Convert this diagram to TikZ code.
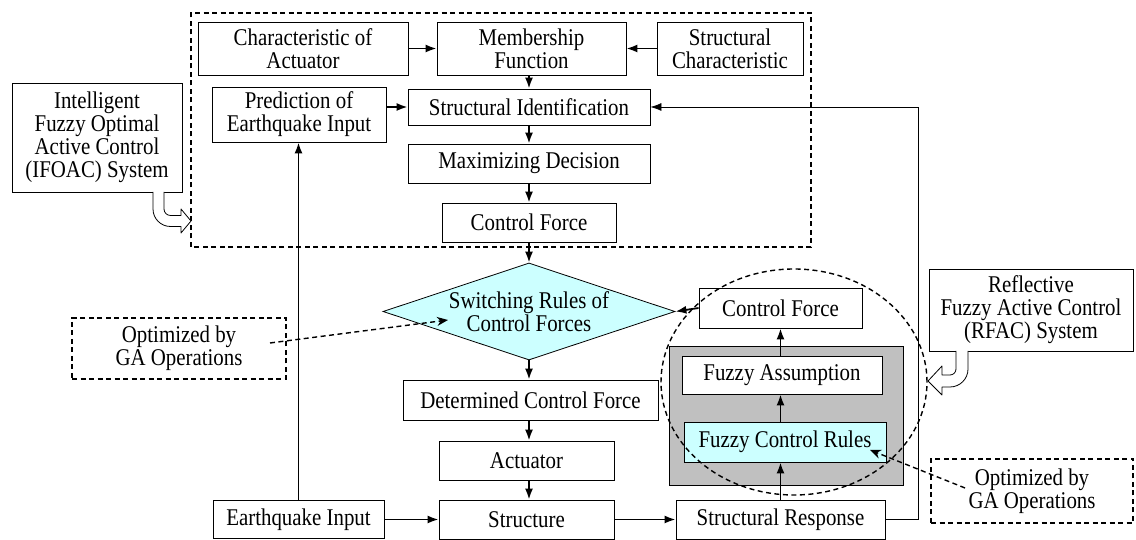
\documentclass[tikz,border=0pt]{standalone}
\usepackage{fontspec}
\setmainfont[FakeStretch=0.87]{Liberation Serif}
\usepackage{tikz}
\usetikzlibrary{arrows.meta,shapes.geometric}
\definecolor{pale}{HTML}{CCFFFF}
\definecolor{boxgray}{HTML}{C0C0C0}
\tikzset{
  box/.style={draw, line width=0.8pt, fill=white, align=center, inner sep=0pt, font=\rmfamily\fontsize{24}{23}\selectfont},
  gabox/.style={box, line width=1.4pt, dash pattern=on 5pt off 3.5pt},
  flow/.style={line width=1.8pt, -{Latex[length=11pt,width=8pt]}},
  back/.style={line width=0.8pt, -{Latex[length=11pt,width=8pt]}},
  hint/.style={line width=1.4pt, dash pattern=on 5pt off 3.5pt, -{Stealth[length=11pt,width=9pt]}},
  frame/.style={line width=1.4pt, dash pattern=on 5pt off 3.5pt},
  hollow/.style={draw, line width=0.8pt, fill=white, line join=round},
}

\begin{document}
\begin{tikzpicture}[x=1pt,y=1pt]
  \useasboundingbox (0,0) rectangle (1136,540);

  % IFOAC part
  \draw[frame] (191,293) rectangle (811,527);
  \node[box, minimum width=210, minimum height=53] (act) at (303,491.5) {Characteristic of\\Actuator};
  \node[box, minimum width=189, minimum height=53] (mf) at (531.5,491.5) {Membership\\Function};
  \node[box, minimum width=146, minimum height=53] (sc) at (730,491.5) {Structural\\Characteristic};
  \node[box, minimum width=174, minimum height=55] (pred) at (299,425.5) {Prediction of\\Earthquake Input};
  \node[box, minimum width=242, minimum height=36] (sid) at (529,433) {Structural Identification};
  \node[box, minimum width=242, minimum height=39] (md) at (529,376.5) {Maximizing Decision};
  \node[box, minimum width=174, minimum height=39] (cf) at (529,317.5) {Control Force};
  \node[box, minimum width=170, minimum height=109] (ifoac) at (97,402.5) {Intelligent\\Fuzzy Optimal\\Active Control\\(IFOAC) System};

  % switching and plant
  \node[box, shape=diamond, aspect=3, inner sep=-5pt, minimum width=292, minimum height=97, fill=pale] (sw) at (529,228.5) {Switching Rules of\\Control Forces};
  \node[box, minimum width=255, minimum height=40] (dcf) at (530.5,140) {Determined Control Force};
  \node[box, minimum width=175, minimum height=39] (actr) at (526.5,79.5) {Actuator};
  \node[box, minimum width=175, minimum height=39] (st) at (526.5,20.5) {Structure};
  \node[box, minimum width=171, minimum height=38] (eq) at (298.5,20.5) {Earthquake Input};
  \node[box, minimum width=209, minimum height=39] (sr) at (780.5,20.5) {Structural Response};

  % RFAC part
  \filldraw[fill=boxgray, draw=black, line width=0.6pt] (669,55) rectangle (903,194);
  \node[box, minimum width=200, minimum height=38] (fa) at (782,165) {Fuzzy Assumption};
  \node[box, minimum width=202, minimum height=40, fill=pale] (fcr) at (785,98) {Fuzzy Control Rules};
  \node[box, minimum width=163, minimum height=40] (cfr) at (780.5,232) {Control Force};
  \node[box, minimum width=204, minimum height=82] (rfac) at (1031,230) {Reflective\\Fuzzy Active Control\\(RFAC) System};

  \node[gabox, minimum width=214, minimum height=61] (gaL) at (179,191.5) {Optimized by\\GA Operations};
  \node[gabox, minimum width=202, minimum height=64] (gaR) at (1032,49) {Optimized by\\GA Operations};

  % connectors
  \draw[flow] (act.east) -- (mf.west);
  \draw[flow] (sc.west) -- (mf.east);
  \draw[flow] (mf.south -| sid.north) -- (sid.north);
  \draw[flow] (pred.east |- sid.west) -- (sid.west);
  \draw[flow] (sid.south) -- (md.north);
  \draw[flow] (md.south) -- (cf.north);
  \draw[flow] (cf.south) -- (sw.north);
  \draw[flow] (sw.south) -- (sw.south |- dcf.north);
  \draw[flow] (sw.south |- dcf.south) -- (sw.south |- actr.north);
  \draw[flow] (sw.south |- actr.south) -- (sw.south |- st.north);
  \draw[flow] (eq.east) -- (st.west);
  \draw[flow] (st.east) -- (sr.west);
  \draw[flow] (eq.north) -- (eq.north |- pred.south);
  \draw[flow] (sr.north) -- (sr.north |- fcr.south);
  \draw[flow] (sr.north |- fcr.north) -- (sr.north |- fa.south);
  \draw[flow] (sr.north |- fa.north) -- (cfr.south);
  \draw[flow] (cfr.west) -- (sw.east);
  \draw[back] (sr.east) -- ++(33,0) |- (sid.east);

  % GA hints
  \coordinate (gaLfrom) at (270,197);
  \coordinate (gaLto) at (448,220);
  \coordinate (gaRfrom) at (965,52);
  \coordinate (gaRto) at (870,90);
  \draw[hint] (gaLfrom) -- (gaLto);
  \draw[hint] (gaRfrom) -- (gaRto);

  % hollow arrows
  \draw[hollow] (153,348) -- (153,331) arc[start angle=180, end angle=270, radius=17.5]
    -- (181,313.5) -- (181,307) -- (191,319) -- (181,331) -- (181,324.5) -- (170.5,324.5)
    arc[start angle=270, end angle=180, radius=6.5] -- (164,348);
  \draw[hollow] (956,189) -- (956,171) arc[start angle=0, end angle=-90, radius=6]
    -- (942,165) -- (942,174) -- (928,159) -- (942,145) -- (942,153) -- (950,153)
    arc[start angle=-90, end angle=0, radius=18] -- (968,189);

  \draw[frame] (794,158) ellipse [x radius=133, y radius=113];
\end{tikzpicture}
\end{document}
